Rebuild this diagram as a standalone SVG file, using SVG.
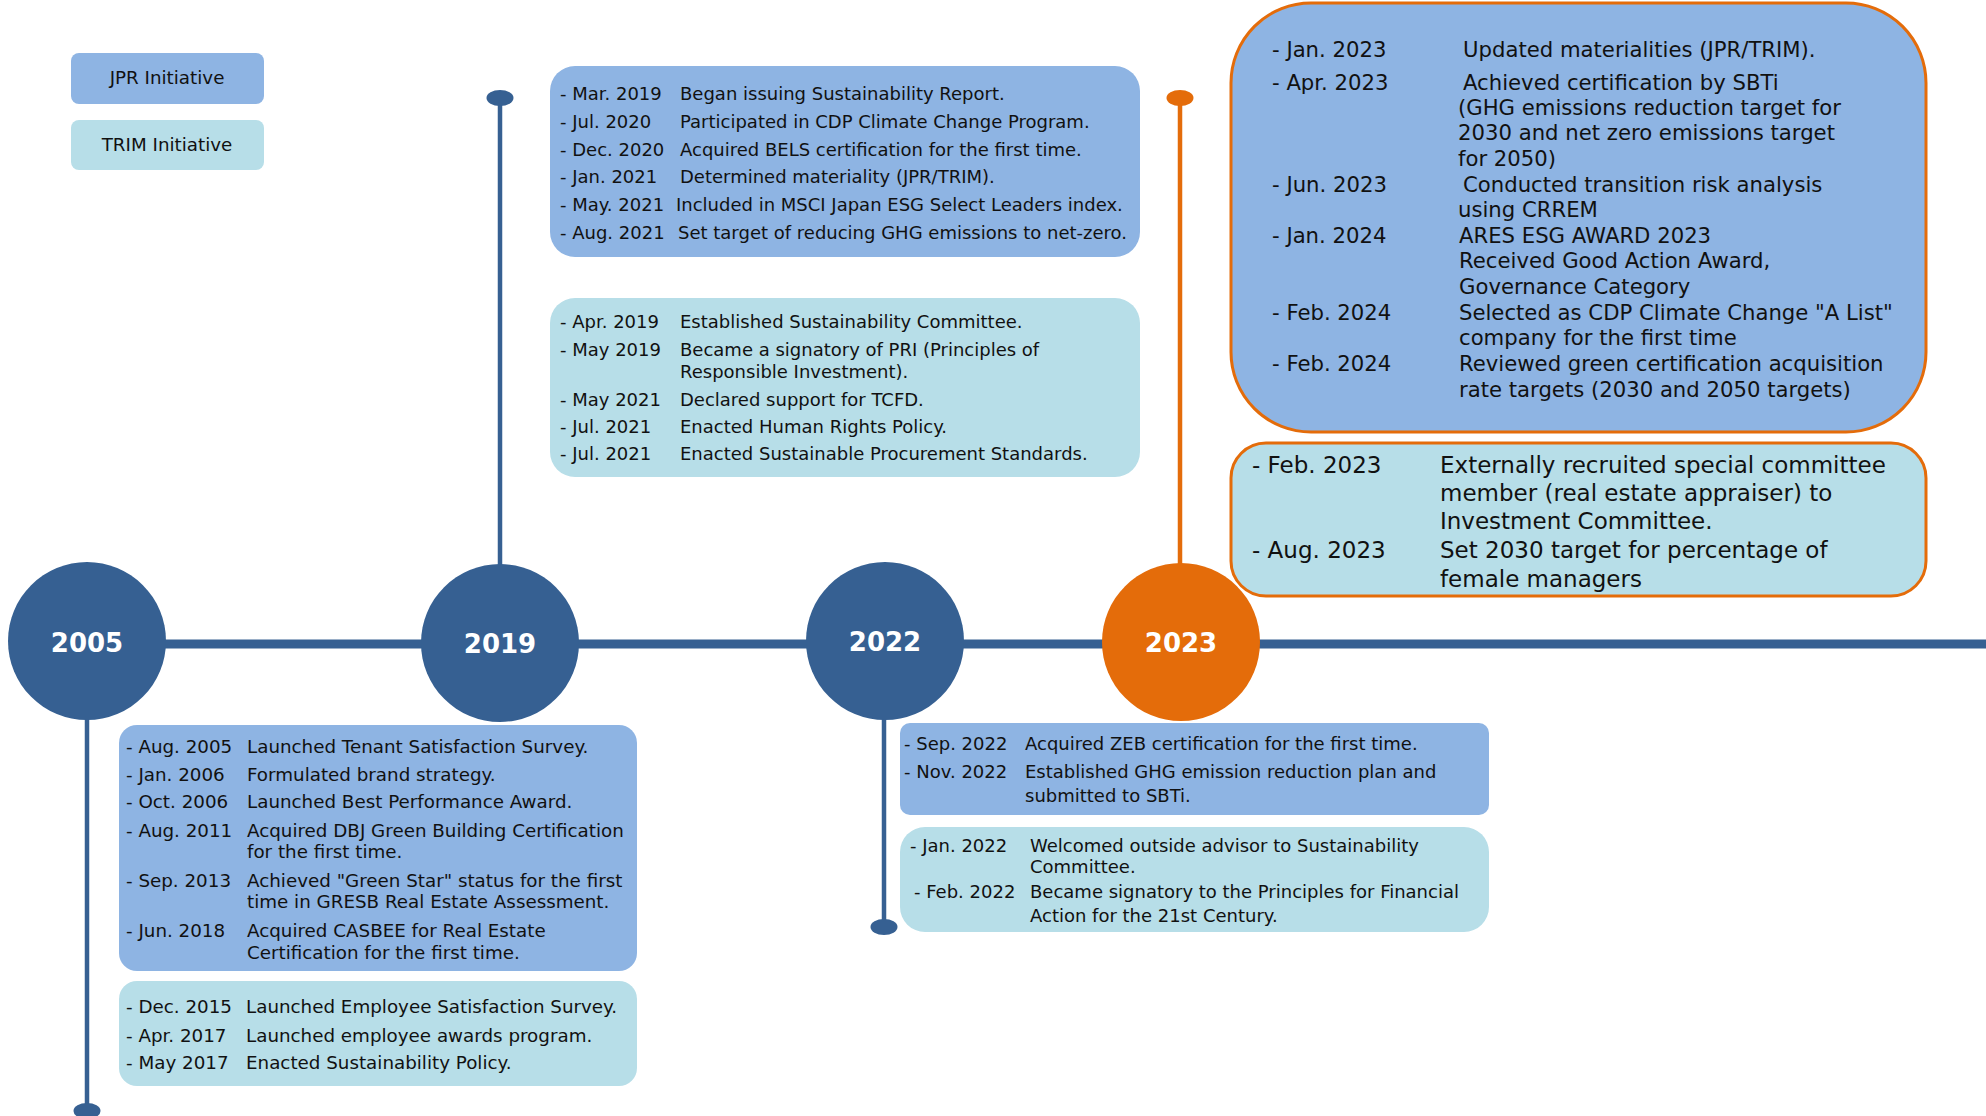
<svg xmlns="http://www.w3.org/2000/svg" width="1986" height="1116" viewBox="0 0 1986 1116">
<style>
.t{font-family:"DejaVu Sans",Verdana,sans-serif;fill:#111}
.f17{font-size:18px}.f18{font-size:18.3px}.f21{font-size:21.2px}.f23{font-size:23px}
.jpr{fill:#8EB4E3}.trim{fill:#B7DEE8}
.or{stroke:#E46C0A;stroke-width:3}
.ln{stroke:#366092;stroke-width:4.5;fill:none}
.lno{stroke:#E46C0A;stroke-width:4.5;fill:none}
.yr{font-family:"DejaVu Sans",Verdana,sans-serif;font-weight:bold;font-size:26px;fill:#fff;text-anchor:middle}
.c{fill:#366092}.co{fill:#E46C0A}
</style>
<rect width="1986" height="1116" fill="#fff"/>
<g id="legend">
<rect class="jpr" x="71" y="53" width="193" height="51" rx="8"/>
<text class="t f18" x="167" y="84" text-anchor="middle">JPR Initiative</text>
<rect class="trim" x="71" y="120" width="193" height="50" rx="8"/>
<text class="t f18" x="167" y="151" text-anchor="middle">TRIM Initiative</text>
</g>
<g id="connectors">
<line class="ln" x1="87" y1="644" x2="1986" y2="644" style="stroke-width:9"/>
<line class="ln" x1="500" y1="98" x2="500" y2="600"/>
<ellipse class="c" cx="500" cy="98" rx="13.5" ry="8"/>
<line class="lno" x1="1180" y1="98" x2="1180" y2="600"/>
<ellipse class="co" cx="1180" cy="98" rx="13.5" ry="8"/>
<line class="ln" x1="87" y1="680" x2="87" y2="1111"/>
<ellipse class="c" cx="87" cy="1111" rx="13.5" ry="8"/>
<line class="ln" x1="884" y1="680" x2="884" y2="927"/>
<ellipse class="c" cx="884" cy="927" rx="13.5" ry="8"/>
</g>
<g id="y2005"><circle class="c" cx="87" cy="641" r="79"/><text class="yr" x="87" y="652">2005</text></g>
<g id="y2019"><circle class="c" cx="500" cy="643" r="79"/><text class="yr" x="500" y="653">2019</text></g>
<g id="y2022"><circle class="c" cx="885" cy="641" r="79"/><text class="yr" x="885" y="651">2022</text></g>
<g id="y2023"><circle class="co" cx="1181" cy="642" r="79"/><text class="yr" x="1181" y="652">2023</text></g>

<g id="box2019jpr">
<rect class="jpr" x="550" y="66" width="590" height="191" rx="25"/>
<g class="t f17">
<text x="560" y="100">- Mar. 2019</text><text x="680" y="100">Began issuing Sustainability Report.</text>
<text x="560" y="128">- Jul. 2020</text><text x="680" y="128">Participated in CDP Climate Change Program.</text>
<text x="560" y="156">- Dec. 2020</text><text x="680" y="156">Acquired BELS certification for the first time.</text>
<text x="560" y="183">- Jan. 2021</text><text x="680" y="183">Determined materiality (JPR/TRIM).</text>
<text x="560" y="211">- May. 2021</text><text x="676" y="211">Included in MSCI Japan ESG Select Leaders index.</text>
<text x="560" y="239">- Aug. 2021</text><text x="678" y="239">Set target of reducing GHG emissions to net-zero.</text>
</g></g>

<g id="box2019trim">
<rect class="trim" x="550" y="298" width="590" height="179" rx="25"/>
<g class="t f17">
<text x="560" y="328">- Apr. 2019</text><text x="680" y="328">Established Sustainability Committee.</text>
<text x="560" y="356">- May 2019</text><text x="680" y="356">Became a signatory of PRI (Principles of</text>
<text x="680" y="378">Responsible Investment).</text>
<text x="560" y="406">- May 2021</text><text x="680" y="406">Declared support for TCFD.</text>
<text x="560" y="433">- Jul. 2021</text><text x="680" y="433">Enacted Human Rights Policy.</text>
<text x="560" y="460">- Jul. 2021</text><text x="680" y="460">Enacted Sustainable Procurement Standards.</text>
</g></g>

<g id="box2023jpr">
<rect class="jpr or" x="1231" y="3" width="695" height="429" rx="80"/>
<g class="t f21">
<text x="1272" y="57">- Jan. 2023</text><text x="1463" y="57">Updated materialities (JPR/TRIM).</text>
<text x="1272" y="90">- Apr. 2023</text><text x="1463" y="90">Achieved certification by SBTi</text>
<text x="1458" y="115">(GHG emissions reduction target for</text>
<text x="1458" y="140">2030 and net zero emissions target</text>
<text x="1458" y="166">for 2050)</text>
<text x="1272" y="192">- Jun. 2023</text><text x="1463" y="192">Conducted transition risk analysis</text>
<text x="1458" y="217">using CRREM</text>
<text x="1272" y="243">- Jan. 2024</text><text x="1459" y="243">ARES ESG AWARD 2023</text>
<text x="1459" y="268">Received Good Action Award,</text>
<text x="1459" y="294">Governance Category</text>
<text x="1272" y="320">- Feb. 2024</text><text x="1459" y="320">Selected as CDP Climate Change "A List"</text>
<text x="1459" y="345">company for the first time</text>
<text x="1272" y="371">- Feb. 2024</text><text x="1459" y="371">Reviewed green certification acquisition</text>
<text x="1459" y="397">rate targets (2030 and 2050 targets)</text>
</g></g>

<g id="box2023trim">
<rect class="trim or" x="1231" y="443" width="695" height="153" rx="35"/>
<g class="t f23">
<text x="1252" y="473">- Feb. 2023</text><text x="1440" y="473">Externally recruited special committee</text>
<text x="1440" y="501">member (real estate appraiser) to</text>
<text x="1440" y="529">Investment Committee.</text>
<text x="1252" y="558">- Aug. 2023</text><text x="1440" y="558">Set 2030 target for percentage of</text>
<text x="1440" y="587">female managers</text>
</g></g>

<g id="box2005jpr">
<rect class="jpr" x="119" y="725" width="518" height="246" rx="18"/>
<g class="t f18">
<text x="126" y="753">- Aug. 2005</text><text x="247" y="753">Launched Tenant Satisfaction Survey.</text>
<text x="126" y="781">- Jan. 2006</text><text x="247" y="781">Formulated brand strategy.</text>
<text x="126" y="808">- Oct. 2006</text><text x="247" y="808">Launched Best Performance Award.</text>
<text x="126" y="837">- Aug. 2011</text><text x="247" y="837">Acquired DBJ Green Building Certification</text>
<text x="247" y="858">for the first time.</text>
<text x="126" y="887">- Sep. 2013</text><text x="247" y="887">Achieved "Green Star" status for the first</text>
<text x="247" y="908">time in GRESB Real Estate Assessment.</text>
<text x="126" y="937">- Jun. 2018</text><text x="247" y="937">Acquired CASBEE for Real Estate</text>
<text x="247" y="959">Certification for the first time.</text>
</g></g>

<g id="box2005trim">
<rect class="trim" x="119" y="981" width="518" height="105" rx="18"/>
<g class="t f18">
<text x="126" y="1013">- Dec. 2015</text><text x="246" y="1013">Launched Employee Satisfaction Survey.</text>
<text x="126" y="1042">- Apr. 2017</text><text x="246" y="1042">Launched employee awards program.</text>
<text x="126" y="1069">- May 2017</text><text x="246" y="1069">Enacted Sustainability Policy.</text>
</g></g>

<g id="box2022jpr">
<rect class="jpr" x="900" y="723" width="589" height="92" rx="10"/>
<g class="t f17">
<text x="904" y="750">- Sep. 2022</text><text x="1025" y="750">Acquired ZEB certification for the first time.</text>
<text x="904" y="778">- Nov. 2022</text><text x="1025" y="778">Established GHG emission reduction plan and</text>
<text x="1025" y="802">submitted to SBTi.</text>
</g></g>

<g id="box2022trim">
<rect class="trim" x="900" y="827" width="589" height="105" rx="25"/>
<g class="t f17">
<text x="910" y="852">- Jan. 2022</text><text x="1030" y="852">Welcomed outside advisor to Sustainability</text>
<text x="1030" y="873">Committee.</text>
<text x="914" y="898">- Feb. 2022</text><text x="1030" y="898">Became signatory to the Principles for Financial</text>
<text x="1030" y="922">Action for the 21st Century.</text>
</g></g>
</svg>
